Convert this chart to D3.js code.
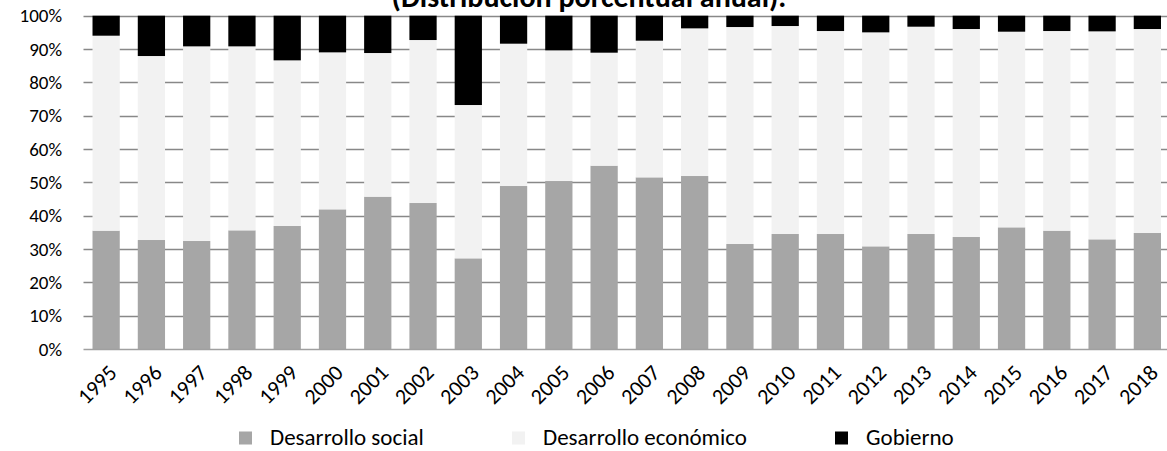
<!DOCTYPE html>
<html>
<head>
<meta charset="utf-8">
<script src="https://cdn.jsdelivr.net/npm/d3@7/dist/d3.min.js"></script>
<style>
  html, body { margin: 0; padding: 0; background: #ffffff; }
  svg { display: block; font-family: Carlito, Calibri, Lato, "Open Sans", sans-serif; }
</style>
</head>
<body>
<svg id="chart" width="1167" height="451"></svg>
<script>
// Distribución porcentual anual por rubro
const years = ["1995","1996","1997","1998","1999","2000","2001","2002","2003","2004","2005","2006",
               "2007","2008","2009","2010","2011","2012","2013","2014","2015","2016","2017","2018"];
const desarrolloSocial    = [35.5,32.7,32.4,35.6,36.9,41.9,45.7,43.8,27.2,48.9,50.4,55.0,
                             51.5,51.9,31.5,34.5,34.5,30.8,34.5,33.6,36.5,35.5,32.9,34.8];
const desarrolloEconomico = [58.5,55.2,58.4,55.2,49.7,47.1,43.1,48.9,46.0,42.7,39.2,33.9,
                             41.0,44.3,65.1,62.4,60.9,64.2,62.2,62.4,58.7,59.9,62.4,61.2];
const gobierno            = [6.0,12.1,9.2,9.2,13.4,11.0,11.2,7.3,26.8,8.4,10.4,11.1,
                             7.5,3.8,3.4,3.1,4.6,5.0,3.3,4.0,4.8,4.6,4.7,4.0];
const yTicks = [0,10,20,30,40,50,60,70,80,90,100];
const seriesNames  = ["Desarrollo social","Desarrollo económico","Gobierno"];
const seriesColors = ["#a6a6a6","#f2f2f2","#000000"];

const rows = years.map((y, i) => ({
  year: y,
  "Desarrollo social": desarrolloSocial[i],
  "Desarrollo económico": desarrolloEconomico[i],
  "Gobierno": gobierno[i]
}));

const svg = d3.select("#chart");
const margin = { left: 83.5, right: -3, top: 15.7 };
const W = 1167;

const x = d3.scaleBand().domain(years)
  .range([margin.left, W - margin.right])
  .paddingInner(0.398).paddingOuter(0.199);
const y = d3.scaleLinear().domain([0, 100]).range([349, margin.top]);

// Title (its upper part runs past the top edge)
svg.append("text")
  .attr("x", 589).attr("y", 7)
  .attr("text-anchor", "middle")
  .attr("font-weight", "bold")
  .attr("font-size", 30)
  .attr("fill", "#000")
  .text("(Distribución porcentual anual).");

// Gridlines
svg.append("g")
  .selectAll("line")
  .data(yTicks.filter(t => t > 0))
  .join("line")
  .attr("x1", margin.left).attr("x2", W)
  .attr("y1", d => Math.round(y(d)) + 0.5).attr("y2", d => Math.round(y(d)) + 0.5)
  .attr("stroke", "#888888").attr("stroke-width", 1.3);

// Stacked bars
const layers = d3.stack().keys(seriesNames)(rows);
svg.append("g")
  .selectAll("g")
  .data(layers)
  .join("g")
  .attr("fill", (d, i) => seriesColors[i])
  .selectAll("rect")
  .data(d => d)
  .join("rect")
  .attr("x", d => x(d.data.year))
  .attr("width", x.bandwidth())
  .attr("y", d => y(d[1]))
  .attr("height", d => y(d[0]) - y(d[1]));

// Baseline axis
svg.append("line")
  .attr("x1", margin.left).attr("x2", W)
  .attr("y1", 349.5).attr("y2", 349.5)
  .attr("stroke", "#a0a0a0").attr("stroke-width", 1.5);

// Y axis labels
const yAxis = d3.axisLeft(y).tickValues(yTicks).tickFormat(d => d + "%").tickSize(0).tickPadding(0);
const gy = svg.append("g").attr("transform", "translate(62,0)").call(yAxis);
gy.attr("font-family", null);
gy.select(".domain").remove();
gy.selectAll("text").attr("font-size", 19).attr("fill", "#000");

// X axis labels, rotated
const xAxis = d3.axisBottom(x).tickSize(0).tickPadding(0);
const gx = svg.append("g").attr("transform", "translate(0,349)").call(xAxis);
gx.attr("font-family", null);
gx.select(".domain").remove();
gx.selectAll("text")
  .attr("font-size", 22).attr("fill", "#000")
  .attr("text-anchor", "end")
  .attr("dy", null).attr("y", 0)
  .attr("transform", "translate(12,25) rotate(-45)");

// Legend
const legendX = [239, 512, 835];
const lg = svg.append("g").selectAll("g")
  .data(seriesNames)
  .join("g")
  .attr("transform", (d, i) => `translate(${legendX[i]},431.5)`);
lg.append("rect").attr("width", 13).attr("height", 13).attr("fill", (d, i) => seriesColors[i]);
lg.append("text")
  .attr("x", 31).attr("y", 13.5)
  .attr("font-size", 23).attr("fill", "#000")
  .text(d => d);
</script>
</body>
</html>
